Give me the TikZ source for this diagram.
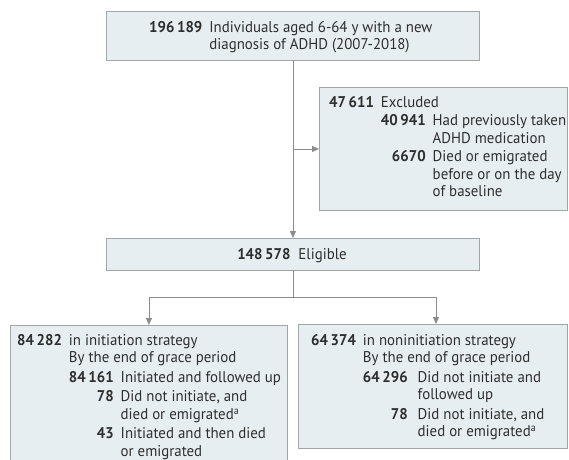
\documentclass[tikz,border=0pt]{standalone}
\usepackage{fontspec}
\setmainfont{PT Sans}[FakeStretch=0.96]
\usepackage{xcolor}
\usetikzlibrary{positioning, calc, arrows.meta}

\definecolor{boxfill}{HTML}{E7EEF2}
\definecolor{boxline}{HTML}{A2A4A6}
\definecolor{flowline}{HTML}{8C8C8C}
\definecolor{txt}{HTML}{2E2E2E}

\newcommand{\cnt}[1]{\textbf{#1}}
\newcommand{\fnmark}{\raisebox{5pt}{\fontsize{10.5}{10.5}\selectfont a}}

\tikzset{
    flowbox/.style={draw=boxline, fill=boxfill, line width=0.9pt, inner sep=0pt},
    flowtext/.style={anchor=base west, inner sep=0pt, text=txt,
        font=\fontsize{15.5}{17.5}\selectfont},
    flow/.style={draw=flowline, line width=0.9pt}
}

\begin{document}
\begin{tikzpicture}[x=1pt, y=-1pt, >={Triangle[length=7pt,width=6pt]}]
    \setlength{\tabcolsep}{3.5pt}

    \useasboundingbox (0,0) rectangle (569,459);
    \clip (0,0) rectangle (569,459);

    % --- Boxes ---
    \node[flowbox, minimum width=373pt, minimum height=49pt, anchor=north west] (cohort) at (106,11) {};
    \node[flowbox, minimum width=248pt, minimum height=123pt, anchor=north west] (excluded) at (319,87) {};
    \node[flowbox, minimum width=373pt, minimum height=32pt, anchor=north west] (eligible) at (106,238) {};
    \node[flowbox, minimum width=277pt, minimum height=160pt, anchor=north west] (initiation) at (10,325) {};
    \node[flowbox, minimum width=269pt, minimum height=124pt, anchor=north west] (noninitiation) at (298,324) {};

    % --- Box texts ---
    \node[flowtext] (cohorttext) at (149,32) {%
        \begin{tabular}[t]{@{}rl@{}}
        \cnt{196\,189} & Individuals aged 6-64 y with a new\\
         & diagnosis of ADHD (2007-2018)
        \end{tabular}};

    \node[flowtext] (excludedtext) at (329,107) {%
        \begin{tabular}[t]{@{}rrl@{}}
        \cnt{47\,611} & \multicolumn{2}{l@{}}{Excluded}\\[1pt]
         & \cnt{40\,941} & Had previously taken\\
         & & ADHD medication\\[1pt]
         & \cnt{6670} & Died or emigrated\\
         & & before or on the day\\
         & & of baseline
        \end{tabular}};

    \node[flowtext, anchor=base] (eligibletext) at (292,259) {\cnt{148\,578}\hspace{8pt}Eligible};

    \node[flowtext] (initiationtext) at (17,345) {%
        \begin{tabular}[t]{@{}rrl@{}}
        \cnt{84\,282} & \multicolumn{2}{l@{}}{in initiation strategy}\\
         & \multicolumn{2}{l@{}}{By the end of grace period}\\[2pt]
         & \cnt{84\,161} & Initiated and followed up\\[2pt]
         & \cnt{78} & Did not initiate, and\\
         & & died or emigrated\fnmark\\[2pt]
         & \cnt{43} & Initiated and then died\\
         & & or emigrated
        \end{tabular}};

    \node[flowtext] (noninitiationtext) at (311,345) {%
        \begin{tabular}[t]{@{}rrl@{}}
        \cnt{64\,374} & \multicolumn{2}{l@{}}{in noninitiation strategy}\\
         & \multicolumn{2}{l@{}}{By the end of grace period}\\[2pt]
         & \cnt{64\,296}\hspace{3pt} & Did not initiate and\\
         & & followed up\\[2pt]
         & \cnt{78}\hspace{3pt} & Did not initiate, and\\
         & & died or emigrated\fnmark
        \end{tabular}};

    % --- Connectors ---
    \coordinate (split) at (cohort.south |- excluded.west);
    \coordinate (branch) at (eligible.south |- 0,297);
    \draw[flow, ->] (cohort.south) -- (eligible.north);
    \draw[flow, ->] (split) -- (excluded.west);
    \draw[flow] (eligible.south) -- (branch);
    \draw[flow, ->] (branch) -| (initiation.north);
    \draw[flow, ->] (branch) -| ([xshift=3pt]noninitiation.north);

\end{tikzpicture}
\end{document}
